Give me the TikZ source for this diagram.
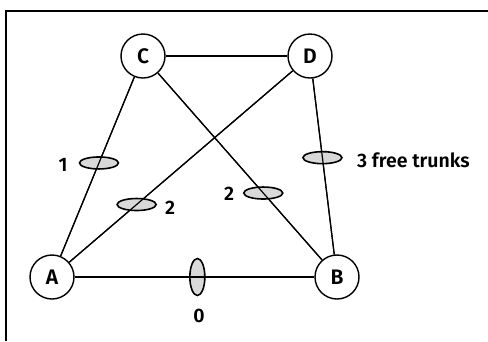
\documentclass[tikz,border=0pt]{standalone}
\usepackage{fontspec}
\setmainfont{Fira Sans}[BoldFont = * SemiBold]
\usetikzlibrary{calc,shapes.geometric}
\begin{document}
\begin{tikzpicture}[x=1pt,y=-1pt,
  station/.style={circle,draw,line width=1.4pt,minimum size=44pt,inner sep=0pt,font=\fontsize{21}{21}\selectfont\bfseries},
  link/.style={line width=1.2pt},
  trunk/.style={ellipse,draw,line width=1.6pt,fill=gray!30,inner sep=0pt,minimum width=39pt,minimum height=12pt},
  vtrunk/.style={trunk,minimum width=15pt,minimum height=37pt},
  lab/.style={font=\fontsize{19.5}{19.5}\selectfont\bfseries,inner sep=0pt}]
\useasboundingbox (0,0) rectangle (488,341);
\draw[line width=1.4pt] (6,341) -- (6,11) -- (488,11);
\node[station] (C) at (143,56) {C};
\node[station] (D) at (310,56) {D};
\node[station] (A) at (52,277) {A};
\node[station] (B) at (337,277) {B};
\draw[link] (C) -- (D);
\draw[link] (C) -- (A);
\draw[link] (D) -- (A);
\draw[link] (C) -- (B);
\draw[link] (D) -- (B);
\draw[link] (A) -- (B);
\node[trunk] (tCA) at ($(C)!0.484!(A)$) {};
\node[trunk] (tDA) at ($(D)!0.672!(A)$) {};
\node[trunk] (tCB) at ($(C)!0.62!(B)$) {};
\node[trunk] (tDB) at ($(D)!0.46!(B)$) {};
\node[vtrunk] (tAB) at ($(A)!0.51!(B)$) {};
\draw[link] (C) -- (A);
\draw[link] (D) -- (A);
\draw[link] (C) -- (B);
\draw[link] (D) -- (B);
\draw[link] (A) -- (B);
\node[lab] (l1) at (63,165) {1};
\node[lab] (l2) at (170,208) {2};
\node[lab] (l3) at (229,194) {2};
\node[lab,anchor=west] (l4) at (357,160) {3 free trunks};
\node[lab] (l5) at (199,316) {0};
\end{tikzpicture}
\end{document}
